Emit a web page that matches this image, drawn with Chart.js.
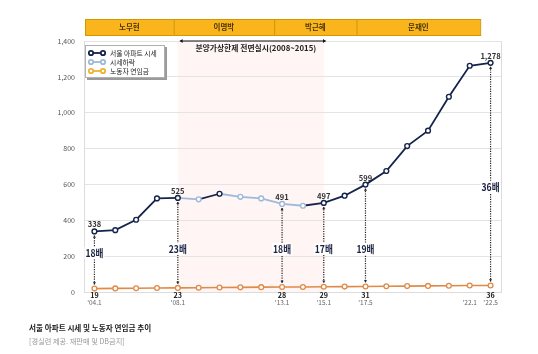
<!DOCTYPE html>
<html><head><meta charset="utf-8">
<script src="https://cdn.jsdelivr.net/npm/chart.js@4"></script>
<style>
html,body{margin:0;padding:0;background:#fff;}
#wrap{position:relative;width:538px;height:354px;overflow:hidden;}
#c{position:absolute;left:0;top:0;}
.cap1{position:absolute;left:29px;top:322px;font:bold 7.6px "Noto Sans CJK KR",sans-serif;color:#222;white-space:nowrap;}
.cap2{position:absolute;left:29px;top:336px;font:7.2px "Noto Sans CJK KR",sans-serif;color:#999;white-space:nowrap;}
</style></head><body>
<div id="wrap">
<canvas id="c" width="538" height="354"></canvas>
<div class="cap1">서울 아파트 시세 및 노동자 연임금 추이</div>
<div class="cap2">[경실련 제공. 재판매 및 DB금지]</div>
</div>
<script>
const labels = ["'04.1","","","","'08.1","","","","","'13.1","","'15.1","","'17.5","","","","","'22.1","'22.5"];
const aptPrice = [338,345,403,522,525,517,548,531,522,491,481,497,537,599,675,814,900,1089,1262,1278];
const wage = [19,20,21,22,23,24,25,26,27,28,28,29,30,31,32,33,34,35,36,36];
const seriesNames = ["서울 아파트 시세","시세하락","노동자 연임금"];
const markedIdx = [0,4,9,11,13,19];
const ratioLabels = ["18배","23배","18배","17배","19배","36배"];
const ratioLabelLevel = [218,240,240,240,240,586];
const presidents = ["노무현","이명박","박근혜","문재인"];
const presidentBounds = [-0.45,3.8,8.62,12.57,18.5];
const policyText = "분양가상한제 전면실시(2008~2015)";
const policyRange = [4,11];

const NAVY = '#15244a', LIGHT = '#9dbad8', ORANGE = '#e08a48', LEG_ORANGE = '#f0b232';
const FONT = '"Noto Sans CJK KR","Noto Sans",sans-serif';
Chart.defaults.font.family = FONT;

function arrowHead(ctx, x, y, dir, size, horiz){
  ctx.beginPath();
  if(horiz){
    ctx.moveTo(x, y); ctx.lineTo(x - dir*size*1.4, y - size); ctx.lineTo(x - dir*size*1.4, y + size);
  } else {
    ctx.moveTo(x, y); ctx.lineTo(x - size, y - dir*size*1.4); ctx.lineTo(x + size, y - dir*size*1.4);
  }
  ctx.closePath(); ctx.fill();
}

const deco = {
  id:'deco',
  beforeDraw(chart){
    const {ctx, chartArea:a, scales:{x}} = chart;
    ctx.save();
    ctx.fillStyle = '#fff5f5';
    const x0 = x.getPixelForValue(policyRange[0]), x1 = x.getPixelForValue(policyRange[1]);
    ctx.fillRect(x0, a.top, x1-x0, a.bottom-a.top);
    ctx.restore();
  },
  afterDraw(chart){
    const {ctx, chartArea:a, scales:{x,y}} = chart;
    ctx.save();
    ctx.strokeStyle = '#dcdcdc'; ctx.lineWidth = 1;
    ctx.beginPath(); ctx.moveTo(a.right+0.5, a.top); ctx.lineTo(a.right+0.5, a.bottom); ctx.stroke();
    for(let i=0;i<presidents.length;i++){
      const bx0 = x.getPixelForValue(presidentBounds[i]), bx1 = x.getPixelForValue(presidentBounds[i+1]);
      ctx.fillStyle = '#fab51c'; ctx.fillRect(bx0, 19, bx1-bx0, 17);
      ctx.strokeStyle = '#d39600'; ctx.lineWidth = 1; ctx.strokeRect(bx0+0.5, 19.5, bx1-bx0, 16);
      ctx.fillStyle = '#4a3608'; ctx.font = '600 7.5px '+FONT; ctx.textAlign='center'; ctx.textBaseline='middle';
      ctx.fillText(presidents[i], (bx0+bx1)/2, 27.5);
    }
    const px0 = x.getPixelForValue(policyRange[0])+2, px1 = x.getPixelForValue(policyRange[1])+2;
    ctx.strokeStyle = '#111'; ctx.fillStyle = '#111'; ctx.lineWidth = 1;
    ctx.beginPath(); ctx.moveTo(px0, a.top); ctx.lineTo(px1, a.top); ctx.stroke();
    arrowHead(ctx, px0, a.top, -1, 2, true); arrowHead(ctx, px1, a.top, 1, 2, true);
    ctx.font = 'bold 7.8px '+FONT; ctx.textAlign='center'; ctx.textBaseline='middle'; ctx.fillStyle='#222';
    ctx.fillText(policyText, (px0+px1)/2+3, 48);
    const lx=85, ly=45, lw=80, lh=33;
    ctx.fillStyle = '#9a9a9a'; ctx.fillRect(lx+2, ly+2, lw, lh);
    ctx.fillStyle = '#fff'; ctx.fillRect(lx, ly, lw, lh);
    ctx.strokeStyle = '#b0b0b0'; ctx.strokeRect(lx+0.5, ly+0.5, lw-1, lh-1);
    const legCols = [NAVY, LIGHT, LEG_ORANGE];
    const rows = [53, 62, 71];
    for(let i=0;i<3;i++){
      ctx.strokeStyle = legCols[i]; ctx.lineWidth = 1.8;
      ctx.beginPath(); ctx.moveTo(91, rows[i]); ctx.lineTo(103, rows[i]); ctx.stroke();
      for(const cx of [91,103]){ ctx.beginPath(); ctx.arc(cx, rows[i], 2.2, 0, Math.PI*2); ctx.fillStyle='#fff'; ctx.fill(); ctx.stroke(); }
      ctx.fillStyle = '#222'; ctx.font = '6.8px '+FONT; ctx.textAlign='left'; ctx.textBaseline='middle';
      ctx.fillText(seriesNames[i], 110, rows[i]);
    }
    markedIdx.forEach((idx, k) => {
      const px = x.getPixelForValue(idx);
      const ya = y.getPixelForValue(aptPrice[idx]);
      const yw = y.getPixelForValue(wage[idx]);
      ctx.strokeStyle = '#222'; ctx.fillStyle = '#222'; ctx.lineWidth = 1.2;
      ctx.setLineDash([1.2,1.2]);
      ctx.beginPath(); ctx.moveTo(px, ya+4); ctx.lineTo(px, yw-4); ctx.stroke();
      ctx.setLineDash([]);
      arrowHead(ctx, px, ya+4, -1, 1.6, false);
      arrowHead(ctx, px, yw-4, 1, 1.6, false);
      ctx.font = '600 7.6px '+FONT; ctx.textAlign='center'; ctx.textBaseline='bottom'; ctx.fillStyle='#333';
      ctx.fillText(aptPrice[idx].toLocaleString('en-US'), px, ya-3);
      ctx.font = '600 7.2px '+FONT; ctx.textBaseline='middle'; ctx.fillStyle='#222';
      ctx.fillText(String(wage[idx]), px, a.bottom+3);
      const ry = y.getPixelForValue(ratioLabelLevel[k]);
      ctx.font = 'bold 10.5px '+FONT;
      const w = ctx.measureText(ratioLabels[k]).width * 0.82;
      ctx.fillStyle = '#fff'; ctx.fillRect(px-w/2-1, ry-6, w+2, 12);
      ctx.fillStyle = '#1a2342'; ctx.textBaseline='middle';
      ctx.save(); ctx.translate(px, ry); ctx.scale(0.82, 1);
      ctx.fillText(ratioLabels[k], 0, 0);
      ctx.restore();
    });
    ctx.restore();
  }
};

new Chart(document.getElementById('c'), {
  type:'line',
  data:{
    labels,
    datasets:[
      {
        label: seriesNames[0], data: aptPrice, borderColor: NAVY, borderWidth: 1.8,
        segment:{ borderColor: c => c.p1.parsed.y < c.p0.parsed.y ? LIGHT : NAVY },
        pointBorderColor: c => (c.dataIndex>0 && aptPrice[c.dataIndex] < aptPrice[c.dataIndex-1]) ? LIGHT : NAVY,
        pointBackgroundColor:'#fff', pointRadius:2.4, pointBorderWidth:1.4, tension:0
      },
      {
        label: seriesNames[2], data: wage, borderColor: ORANGE, borderWidth: 1.6,
        pointBorderColor: ORANGE, pointBackgroundColor:'#fff', pointRadius:2.4, pointBorderWidth:1.3, tension:0
      }
    ]
  },
  options:{
    responsive:false, animation:false,
    layout:{ padding:{ left:0, right:37, top:41, bottom:42 } },
    plugins:{ legend:{display:false}, tooltip:{enabled:false} },
    scales:{
      x:{
        offset:true,
        grid:{ display:false, drawTicks:false },
        border:{ display:true, color:'#dcdcdc' },
        ticks:{ autoSkip:false, maxRotation:0, padding:7, color:'#666', font:{ size:6.5 } },
        afterFit(s){ s.height = 20; }
      },
      y:{
        min:0, max:1400,
        grid:{ color:'#e4e4e4', drawTicks:false },
        border:{ display:true, color:'#dcdcdc' },
        ticks:{ stepSize:200, padding:9, color:'#555', font:{ size:7 }, callback:v => v.toLocaleString('en-US') },
        afterFit(s){ s.width = 84; }
      }
    }
  },
  plugins:[deco]
});
</script>
</body></html>
